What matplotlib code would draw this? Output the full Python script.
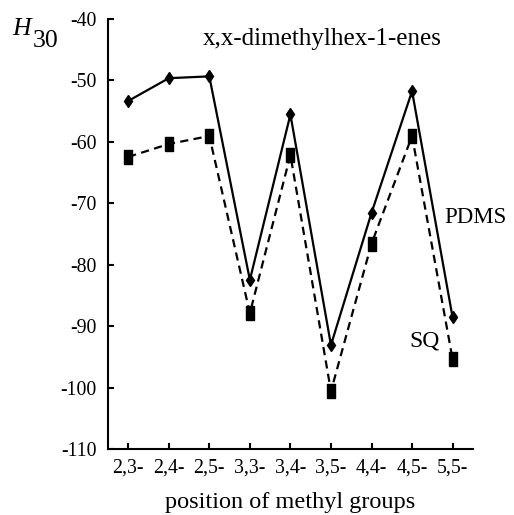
import matplotlib
matplotlib.use('Agg')
import matplotlib.pyplot as plt

positions = ['2,3-', '2,4-', '2,5-', '3,3-', '3,4-', '3,5-', '4,4-', '4,5-', '5,5-']
pdms = [-53.4, -49.7, -49.4, -82.5, -55.6, -93.1, -71.6, -51.8, -88.6]
sq = [-62.5, -60.4, -59.1, -87.9, -62.2, -100.6, -76.6, -59.1, -95.4]

plt.rcParams['font.family'] = 'Liberation Serif'
plt.rcParams['axes.unicode_minus'] = False

fig = plt.figure(figsize=(5.14, 5.15), dpi=100)
ax = fig.add_axes([0.210, 0.128, 0.710, 0.836])

x = range(len(positions))
ax.plot(x, pdms, color='black', lw=1.6, marker='d', markersize=6)
# tall narrow rectangles for the SQ points
rect = [(-0.55, -1), (0.55, -1), (0.55, 1), (-0.55, 1), (-0.55, -1)]
ax.plot(x, sq, color='black', lw=1.6, ls=(0, (3.7, 2.4)), marker=rect, markersize=10)

ax.set_xlim(-0.5, 8.5)
ax.set_ylim(-110, -40)
ax.set_yticks(range(-110, -39, 10))
ax.set_xticks(list(x))
ax.set_xticklabels(positions)
ax.tick_params(direction='in', length=4, width=1.5, labelsize=14.3, pad=7)
ax.tick_params(axis='y', pad=8)
for side in ['top', 'right']:
    ax.spines[side].set_visible(False)
for side in ['left', 'bottom']:
    ax.spines[side].set_linewidth(1.5)

ax.set_xlabel('position of methyl groups', fontsize=17.5, labelpad=10)
ax.text(4.78, -43.3, 'x,x-dimethylhex-1-enes', fontsize=18, ha='center', va='center')
ax.text(8.57, -72.3, 'PDMS', fontsize=16.5, ha='center', va='center')
ax.text(7.30, -92.5, 'SQ', fontsize=17, ha='center', va='center')

fig.text(0.024, 0.944, 'H', fontsize=18.5, style='italic', ha='left', va='center')
fig.text(0.064, 0.920, '30', fontsize=18.5, ha='left', va='center')

fig.savefig('out.png', dpi=100)
